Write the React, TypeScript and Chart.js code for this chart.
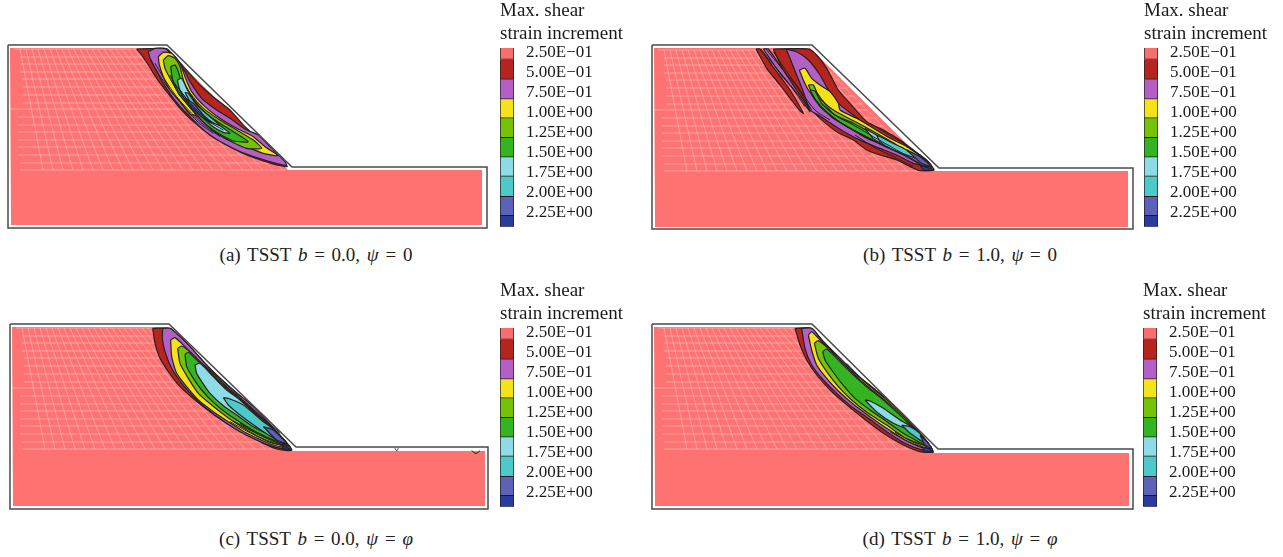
import React, { useEffect, useRef } from "react";
import { Chart, registerables } from "chart.js";

Chart.register(...registerables);

type Pt = number[];

// ---- shared text and legend data ----
const legendTitle = ["Max. shear", "strain increment"];
const tickValues = [0.25, 0.5, 0.75, 1, 1.25, 1.5, 1.75, 2, 2.25];
const tickLabels = ["2.50E\u221201", "5.00E\u221201", "7.50E\u221201", "1.00E+00", "1.25E+00", "1.50E+00", "1.75E+00", "2.00E+00", "2.25E+00"];
const bandEdges = [0.19, 0.333, 0.582, 0.831, 1.066, 1.31, 1.554, 1.794, 2.047, 2.287, 2.425];
const bandColors = ["#fb6e6e", "#b5251d", "#b45fc6", "#f5e31a", "#74c307", "#34b420", "#8cdbe6", "#4dc9c9", "#5b62b8", "#2b3a9e"];
const SALMON = "#ff7272";
const LINE = "#262020";
const FONT = "'Liberation Serif', serif";

// ---- finite element mesh seen under the contours (panel (a) frame of reference) ----
const meshRowY = [49, 57, 64, 72, 79, 87, 95, 103, 109, 117, 125, 132, 140, 147, 155, 163, 170];
const meshRowStart = [14, 20, 20, 20, 22, 22, 22, 22, 10, 18, 18, 18, 18, 18, 18, 20, 20];
const meshRowEnd = [166, 173, 180, 188, 195, 203, 211, 219, 225, 233, 241, 248, 256, 263, 271, 279, 285];
const meshColTop = [20, 26, 32, 38, 44, 50, 56, 62, 68, 74, 80, 86, 92, 98, 104, 110, 116, 122, 128, 134, 140, 146, 152, 158, 164];
const meshColBottom = [43, 53, 63, 73, 83, 93, 103, 113, 123, 133, 143, 153, 163, 173, 183, 193, 203, 213, 223, 233, 243, 253, 263, 273, 283];

// ---- panel outlines and filled model domains ----
const frameA: Pt[] = [[8, 45], [167, 45], [292, 167], [487, 167], [487, 228], [8, 228], [8, 45]];
const frameB: Pt[] = [[652, 45], [812, 45], [939, 168], [1133, 168], [1133, 229], [652, 229], [652, 45]];
const frameC: Pt[] = [[10, 324], [169, 324], [296, 447], [488, 447], [488, 509], [10, 509], [10, 324]];
const frameD: Pt[] = [[652, 324], [812, 324], [938, 449], [1133, 449], [1133, 509], [652, 509], [652, 324]];
const domainA: Pt[] = [[10, 48], [165, 48], [288, 170], [482, 170], [482, 225], [11, 225]];
const domainB: Pt[] = [[654, 48], [810, 48], [934, 171], [1128, 171], [1128, 227], [655, 227]];
const domainC: Pt[] = [[12, 327], [168, 327], [291, 451], [485, 451], [485, 506], [13, 506]];
const domainD: Pt[] = [[654, 327], [810, 327], [934, 453], [1129, 453], [1129, 506], [655, 506]];

// ---- contour outlines, in crop units, outermost first ----
const a5: Pt[] = [[20, 42], [100, 40], [112, 42], [130, 60], [165, 100], [210, 150], [255, 190], [300, 225], [345, 275], [400, 325], [450, 375], [472, 395], [440, 390], [400, 378], [350, 360], [290, 330], [240, 300], [190, 260], [150, 220], [110, 170], [80, 130], [55, 90], [35, 60]];
const a7: Pt[] = [[55, 50], [75, 40], [108, 42], [135, 72], [165, 110], [180, 140], [215, 190], [260, 225], [300, 250], [350, 285], [385, 300], [420, 335], [465, 380], [470, 392], [430, 383], [380, 368], [330, 350], [280, 325], [240, 300], [210, 275], [180, 245], [160, 225], [130, 190], [100, 145], [75, 100], [60, 70]];
const a10: Pt[] = [[85, 65], [100, 52], [125, 55], [150, 85], [165, 125], [185, 170], [225, 215], [270, 250], [320, 280], [370, 305], [405, 335], [445, 362], [400, 355], [350, 335], [300, 315], [260, 290], [225, 262], [195, 240], [180, 238], [150, 200], [120, 165], [100, 125], [88, 90]];
const a12: Pt[] = [[100, 75], [115, 62], [135, 70], [150, 95], [160, 135], [180, 175], [220, 220], [270, 255], [320, 285], [370, 315], [395, 340], [350, 340], [300, 318], [260, 295], [225, 265], [195, 235], [165, 200], [140, 165], [120, 130], [105, 100]];
const a15: Pt[] = [[122, 95], [135, 90], [145, 110], [155, 145], [180, 185], [215, 225], [265, 262], [310, 290], [355, 320], [310, 318], [265, 295], [230, 270], [200, 240], [170, 205], [145, 175], [128, 135]];
const a17: Pt[] = [[142, 135], [155, 130], [170, 160], [195, 200], [230, 240], [265, 268], [300, 295], [280, 292], [245, 272], [215, 245], [185, 215], [160, 185], [148, 160]];
const a20: Pt[] = [[165, 172], [175, 175], [200, 210], [240, 245], [270, 272], [240, 258], [205, 230], [180, 200]];
const a22: Pt[] = [[165, 190], [190, 205], [220, 240], [245, 265], [215, 245], [185, 220]];
const aRidges: Pt[][] = [
  [[60, 70], [85, 115], [120, 165], [160, 212], [205, 262], [250, 295]],
  [[75, 85], [105, 135], [140, 185], [185, 235], [225, 272], [270, 305]],
  [[130, 140], [165, 185], [200, 225], [235, 258], [280, 285]],
  [[150, 165], [180, 205], [215, 238], [255, 268]],
  [[120, 120], [150, 175], [190, 220], [225, 255]],
];

const b5: Pt[] = [[100, 42], [205, 42], [230, 60], [260, 100], [295, 165], [330, 205], [380, 260], [430, 285], [480, 315], [520, 345], [560, 375], [582, 405], [540, 407], [510, 395], [470, 375], [420, 360], [380, 345], [340, 315], [290, 290], [240, 250], [205, 215], [170, 165], [130, 105]];
const b5s1: Pt[] = [[48, 42], [60, 42], [110, 110], [150, 165], [190, 235], [178, 225], [120, 150], [80, 100]];
const b5s2: Pt[] = [[70, 42], [85, 42], [130, 105], [180, 170], [210, 230], [175, 180], [120, 115]];
const b7: Pt[] = [[138, 42], [170, 50], [205, 75], [240, 120], [265, 165], [295, 205], [340, 240], [380, 270], [430, 300], [490, 335], [540, 365], [575, 395], [520, 385], [470, 360], [420, 340], [370, 320], [320, 295], [280, 270], [235, 240], [210, 225], [190, 170], [170, 120], [150, 70]];
const b10: Pt[] = [[178, 105], [195, 100], [215, 130], [240, 150], [270, 170], [295, 205], [300, 225], [350, 250], [400, 280], [450, 310], [500, 335], [550, 370], [490, 350], [430, 330], [380, 310], [330, 280], [280, 250], [240, 210], [205, 165], [190, 135]];
const b12: Pt[] = [[205, 150], [220, 150], [232, 175], [255, 205], [285, 228], [355, 265], [410, 295], [470, 330], [430, 325], [375, 305], [320, 270], [270, 235], [225, 195]];
const b15: Pt[] = [[210, 165], [225, 168], [245, 205], [285, 240], [340, 265], [395, 295], [445, 325], [395, 315], [340, 285], [290, 255], [240, 215]];
const b17: Pt[] = [[375, 280], [400, 295], [440, 320], [490, 340], [440, 335], [400, 310]];
const b20: Pt[] = [[410, 300], [450, 320], [500, 345], [545, 375], [500, 360], [450, 340], [420, 320]];
const b22: Pt[] = [[500, 345], [540, 365], [575, 395], [545, 385]];
const b25: Pt[] = [[540, 390], [582, 405], [550, 405]];
const bRidges: Pt[][] = [
  [[62, 42], [110, 100], [150, 150], [195, 215]],
  [[78, 42], [125, 100], [170, 155], [215, 225]],
  [[100, 50], [140, 110], [180, 165], [225, 225], [270, 255]],
  [[215, 180], [255, 225], [305, 265], [360, 295], [420, 328], [490, 360], [550, 395]],
  [[225, 195], [270, 240], [320, 275], [380, 305], [440, 335], [510, 370], [565, 400]],
  [[240, 190], [285, 240], [340, 270], [400, 305], [470, 345], [540, 385]],
  [[390, 265], [440, 295], [490, 325], [540, 360], [575, 390]],
  [[345, 300], [400, 335], [460, 365], [520, 395]],
];

const c5: Pt[] = [[68, 40], [120, 40], [145, 60], [185, 100], [230, 150], [280, 200], [330, 245], [380, 290], [430, 340], [485, 405], [440, 402], [390, 380], [340, 355], [290, 325], [240, 290], [195, 255], [150, 215], [115, 170], [90, 130], [75, 85]];
const c7: Pt[] = [[98, 40], [120, 40], [150, 65], [180, 95], [225, 145], [270, 190], [320, 235], [360, 265], [400, 305], [440, 350], [480, 395], [470, 402], [430, 395], [380, 375], [330, 350], [280, 318], [235, 285], [195, 250], [155, 205], [125, 160], [105, 110], [97, 70]];
const c10: Pt[] = [[122, 75], [135, 68], [165, 95], [205, 135], [250, 175], [300, 225], [350, 265], [410, 320], [470, 385], [475, 398], [440, 393], [400, 378], [345, 352], [295, 320], [250, 290], [205, 255], [170, 215], [140, 175], [125, 125]];
const c12: Pt[] = [[143, 100], [155, 93], [185, 115], [225, 155], [275, 205], [325, 245], [385, 300], [420, 335], [470, 390], [430, 385], [385, 365], [335, 335], [290, 305], [245, 270], [205, 235], [175, 190], [150, 145]];
const c15: Pt[] = [[165, 118], [175, 112], [205, 140], [250, 185], [290, 220], [350, 270], [400, 315], [465, 385], [430, 375], [380, 352], [335, 325], [290, 295], [250, 262], [215, 225], [190, 190], [170, 155]];
const c17: Pt[] = [[195, 150], [210, 145], [250, 185], [290, 225], [330, 255], [400, 320], [455, 375], [420, 360], [370, 335], [320, 300], [280, 272], [240, 235], [215, 200], [200, 175]];
const c20: Pt[] = [[280, 248], [300, 252], [340, 270], [400, 320], [440, 350], [470, 385], [440, 375], [385, 340], [330, 300], [295, 270]];
const c22: Pt[] = [[400, 335], [430, 345], [470, 385], [440, 375]];
const c25: Pt[] = [[455, 385], [480, 395], [485, 405], [460, 400]];
const cRidges: Pt[][] = [
  [[300, 320], [350, 348], [400, 372], [450, 390], [480, 402]],
  [[310, 318], [360, 345], [410, 370], [460, 390]],
  [[330, 325], [380, 355], [430, 378], [470, 395]],
  [[250, 170], [300, 215], [350, 258], [400, 300], [450, 355]],
];
const cNick1: Pt[] = [[75, 55], [80, 62], [85, 55]];
const cNick2: Pt[] = [[305, 62], [318, 70], [330, 62]];

const d5: Pt[] = [[45, 40], [95, 40], [130, 80], [180, 130], [230, 180], [280, 225], [330, 270], [390, 330], [460, 410], [420, 410], [370, 390], [310, 355], [250, 310], [195, 265], [150, 225], [110, 180], [80, 135], [60, 90]];
const d7: Pt[] = [[65, 40], [95, 40], [125, 75], [175, 125], [225, 175], [275, 215], [335, 265], [395, 325], [458, 405], [420, 403], [375, 385], [320, 350], [265, 310], [215, 275], [170, 235], [130, 195], [95, 150], [75, 100]];
const d10: Pt[] = [[85, 60], [95, 50], [130, 85], [175, 125], [230, 180], [290, 230], [345, 275], [395, 325], [455, 400], [420, 395], [375, 375], [320, 340], [270, 305], [220, 268], [175, 228], [140, 190], [110, 150], [95, 105]];
const d12: Pt[] = [[103, 85], [115, 77], [150, 105], [190, 145], [235, 190], [295, 240], [345, 280], [395, 330], [450, 395], [415, 385], [370, 365], [320, 330], [265, 295], [215, 255], [175, 215], [140, 170], [115, 130]];
const d15: Pt[] = [[128, 110], [140, 102], [170, 130], [215, 175], [260, 215], [310, 255], [365, 305], [420, 360], [455, 400], [415, 380], [370, 355], [320, 320], [270, 285], [225, 250], [185, 205], [155, 165], [135, 135]];
const d17: Pt[] = [[255, 255], [270, 258], [310, 280], [360, 315], [410, 345], [420, 375], [385, 345], [340, 325], [295, 295]];
const d20: Pt[] = [[365, 330], [390, 335], [420, 355], [445, 390], [420, 375], [385, 350]];
const d22: Pt[] = [[420, 360], [440, 380], [455, 400], [435, 390]];
const d25: Pt[] = [[435, 395], [460, 410], [430, 408]];
const dRidges: Pt[][] = [
  [[330, 350], [380, 378], [430, 400]],
  [[345, 352], [395, 380], [440, 400]],
  [[200, 145], [250, 195], [300, 235], [350, 280], [400, 330]],
];

type Panel = {
  id: string;
  caption: string;
  psi: string;
  b: string;
  left: number; top: number; width: number; height: number;
  frame: Pt[]; domain: Pt[];
  meshDx: number; meshDy: number;
  cropX: number; cropY: number;
  contours: [Pt[], number][];
  ridges: Pt[][];
  legendX: number; legendY: number;
  captionCx: number; captionCy: number;
};

const panels: Panel[] = [
  { id: "a", caption: "(a)", b: "0.0", psi: "0", left: 0, top: 35, width: 495, height: 200, frame: frameA, domain: domainA, meshDx: 0, meshDy: 0, cropX: 130, cropY: 35,
    contours: [[a5, 1], [a7, 2], [a10, 3], [a12, 4], [a15, 5], [a17, 6], [a20, 7], [a22, 8]], ridges: aRidges, legendX: 500, legendY: 0, captionCx: 316, captionCy: 255 },
  { id: "b", caption: "(b)", b: "1.0", psi: "0", left: 644, top: 35, width: 495, height: 200, frame: frameB, domain: domainB, meshDx: 644, meshDy: 1, cropX: 740, cropY: 35,
    contours: [[b5s1, 1], [b5s2, 2], [b5, 1], [b7, 2], [b10, 3], [b12, 4], [b15, 5], [b17, 6], [b20, 7], [b22, 8], [b25, 9]], ridges: bRidges, legendX: 1144, legendY: 0, captionCx: 960, captionCy: 255 },
  { id: "c", caption: "(c)", b: "0.0", psi: "\u03c6", left: 0, top: 315, width: 495, height: 200, frame: frameC, domain: domainC, meshDx: 2, meshDy: 279, cropX: 130, cropY: 315,
    contours: [[c5, 1], [c7, 2], [c10, 3], [c12, 4], [c15, 5], [c17, 6], [c20, 7], [c22, 8], [c25, 9]], ridges: cRidges, legendX: 500, legendY: 280, captionCx: 316, captionCy: 539 },
  { id: "d", caption: "(d)", b: "1.0", psi: "\u03c6", left: 644, top: 315, width: 495, height: 200, frame: frameD, domain: domainD, meshDx: 644, meshDy: 279, cropX: 780, cropY: 315,
    contours: [[d5, 1], [d7, 2], [d10, 3], [d12, 4], [d15, 5], [d17, 6], [d20, 7], [d22, 8], [d25, 9]], ridges: dRidges, legendX: 1143, legendY: 280, captionCx: 960, captionCy: 539 },
];

const CROP_ZOOM = 3;

function toXY(points: Pt[]) {
  return points.map(([x, y]) => ({ x, y }));
}

function PanelChart({ p }: { p: Panel }) {
  const ref = useRef<HTMLCanvasElement>(null);
  useEffect(() => {
    const ds: any[] = [];
    const add = (data: any[], o: any) => ds.push({ data, pointRadius: 0, pointHitRadius: 0, showLine: true, fill: false, clip: false, ...o });
    const crop = (pts: Pt[]) => pts.map(([x, y]) => ({ x: p.cropX + x / CROP_ZOOM, y: p.cropY + y / CROP_ZOOM }));
    add(toXY(p.domain).concat(toXY(p.domain.slice(0, 1))), { borderWidth: 0, borderColor: "transparent", fill: "shape", backgroundColor: SALMON });
    meshRowY.forEach((y, i) => {
      add([{ x: meshRowStart[i] + p.meshDx, y: y + p.meshDy }, { x: meshRowEnd[i] + p.meshDx, y: y + p.meshDy }], { borderWidth: 1, borderColor: "rgba(255,255,255,0.32)" });
    });
    meshColTop.forEach((x, i) => {
      add([{ x: x + p.meshDx, y: meshRowY[0] + p.meshDy }, { x: meshColBottom[i] + p.meshDx, y: meshRowY[meshRowY.length - 1] + p.meshDy }], { borderWidth: 1, borderColor: "rgba(255,255,255,0.3)" });
    });
    p.contours.forEach(([pts, band]) => {
      const page = crop(pts);
      add(page.concat(page.slice(0, 1)), { fill: "shape", backgroundColor: bandColors[band], borderColor: LINE, borderWidth: 1.2, tension: 0.2 });
    });
    p.ridges.forEach((r) => add(crop(r), { borderColor: LINE, borderWidth: 1, tension: 0.3 }));
    if (p.id === "c") {
      [cNick1, cNick2].forEach((n) => {
        add(n.map(([x, y]) => ({ x: 370 + x / CROP_ZOOM, y: 430 + y / CROP_ZOOM })), { borderColor: LINE, borderWidth: 1, tension: 0.4 });
      });
    }
    add(toXY(p.frame), { borderColor: "#4a4a4a", borderWidth: 1.5 });
    const total = ds.length;
    ds.forEach((d, i) => { d.order = total - i; });

    const chart = new Chart(ref.current!, {
      type: "scatter",
      data: { datasets: ds },
      options: {
        animation: false,
        responsive: false,
        events: [],
        layout: { padding: 0 },
        plugins: { legend: { display: false }, tooltip: { enabled: false }, title: { display: false } },
        scales: {
          x: { type: "linear", display: false, min: p.left, max: p.left + p.width },
          y: { type: "linear", display: false, min: p.top, max: p.top + p.height, reverse: true },
        },
      },
    });
    return () => chart.destroy();
  }, [p]);
  return <canvas ref={ref} width={p.width} height={p.height} style={{ position: "absolute", left: p.left, top: p.top, width: p.width, height: p.height }} />;
}

function LegendChart({ p }: { p: Panel }) {
  const ref = useRef<HTMLCanvasElement>(null);
  useEffect(() => {
    const datasets = bandColors.map((c, i) => ({
      label: c,
      data: [[bandEdges[i], bandEdges[i + 1]]],
      backgroundColor: c,
      borderColor: "#1c1c1c",
      borderWidth: 1,
      barPercentage: 1,
      categoryPercentage: 1,
    }));
    const chart = new Chart(ref.current!, {
      type: "bar",
      data: { labels: [""], datasets: datasets as any },
      options: {
        animation: false,
        responsive: false,
        events: [],
        layout: { autoPadding: false, padding: { left: 0, right: 0, top: 0, bottom: 1 } },
        plugins: {
          legend: { display: false },
          tooltip: { enabled: false },
          title: {
            display: true,
            text: legendTitle,
            align: "start",
            color: "#1a1a1a",
            font: { family: FONT, size: 19, weight: "normal", lineHeight: 23 / 19 },
            padding: { top: 0, bottom: 2 },
          },
        },
        scales: {
          x: { display: false, stacked: true },
          y: {
            type: "linear",
            position: "right",
            stacked: false,
            reverse: true,
            min: bandEdges[0],
            max: bandEdges[bandEdges.length - 1],
            border: { display: false },
            grid: { display: false, drawTicks: false },
            afterBuildTicks: (s: any) => { s.ticks = tickValues.map((value) => ({ value })); },
            afterFit: (s: any) => { s.width = 125; },
            ticks: {
              padding: 12,
              color: "#1a1a1a",
              font: { family: FONT, size: 17 },
              autoSkip: false,
              callback: (_v: any, i: number) => tickLabels[i],
            },
          },
        },
      },
    });
    return () => chart.destroy();
  }, [p]);
  return <canvas ref={ref} width={139} height={249} style={{ position: "absolute", left: p.legendX, top: p.legendY, width: 139, height: 249 }} />;
}

function Caption({ p }: { p: Panel }) {
  return (
    <div style={{ position: "absolute", left: p.captionCx - 150, width: 300, top: p.captionCy - 11, height: 22, lineHeight: "22px", textAlign: "center", whiteSpace: "nowrap", fontFamily: FONT, fontSize: 19, wordSpacing: "2px", color: "#222" }}>
      {p.caption} TSST <i>b</i> = {p.b}, <i>{"\u03c8"}</i> = {p.psi === "0" ? "0" : <i>{p.psi}</i>}
    </div>
  );
}

export default function App() {
  return (
    <div style={{ position: "absolute", left: 0, top: 0, width: 1283, height: 557, background: "#fff", overflow: "hidden" }}>
      {panels.map((p) => (
        <React.Fragment key={p.id}>
          <PanelChart p={p} />
          <LegendChart p={p} />
          <Caption p={p} />
        </React.Fragment>
      ))}
    </div>
  );
}
